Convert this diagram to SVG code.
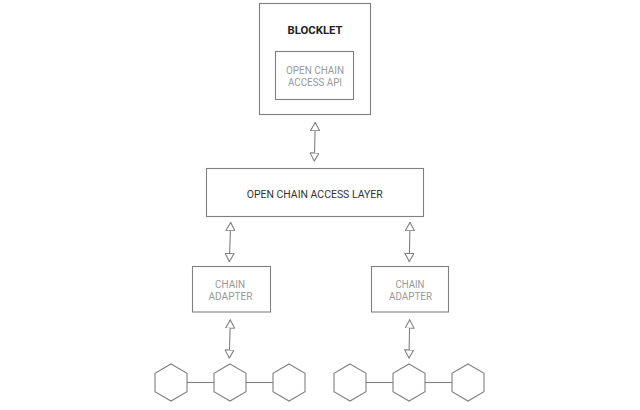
<svg xmlns="http://www.w3.org/2000/svg" width="640" height="410" viewBox="0 0 640 410">
<style>
.box{fill:#fff;stroke:#808080;stroke-width:1.1}
.t{font-family:Roboto,"Liberation Sans",sans-serif;font-size:10.5px;text-anchor:middle}
.dark{fill:#333}
.grey{fill:#999}
.bold{font-weight:bold;font-size:11px;fill:#222}
.conn{stroke:#808080;stroke-width:1.1;fill:none}
.hex{fill:#fff;stroke:#808080;stroke-width:1.1}
</style>
<defs>
<marker id="tri" viewBox="0 0 10 10" refX="10" refY="5" markerWidth="9" markerHeight="10" markerUnits="userSpaceOnUse" orient="auto-start-reverse" preserveAspectRatio="none">
<path d="M0.5,0.5 L9.5,5 L0.5,9.5 Z" fill="#fff" stroke="#808080" stroke-width="1.1"/>
</marker>
</defs>
<rect width="640" height="410" fill="#fff"/>
<g id="connectors">
<line class="conn" x1="315.3" y1="122" x2="314.3" y2="161.5" marker-start="url(#tri)" marker-end="url(#tri)"/>
<line class="conn" x1="230.7" y1="222" x2="229.3" y2="262" marker-start="url(#tri)" marker-end="url(#tri)"/>
<line class="conn" x1="410" y1="222" x2="409.3" y2="262" marker-start="url(#tri)" marker-end="url(#tri)"/>
<line class="conn" x1="230.3" y1="319.5" x2="229.3" y2="358.5" marker-start="url(#tri)" marker-end="url(#tri)"/>
<line class="conn" x1="409.7" y1="319.5" x2="409" y2="358.5" marker-start="url(#tri)" marker-end="url(#tri)"/>
<line class="conn" x1="187" y1="382.5" x2="214" y2="382.5"/>
<line class="conn" x1="246" y1="382.5" x2="273" y2="382.5"/>
<line class="conn" x1="366" y1="382.5" x2="393" y2="382.5"/>
<line class="conn" x1="425" y1="382.5" x2="452" y2="382.5"/>
</g>
<g id="blocklet">
<rect class="box" x="259.5" y="3.5" width="111" height="111"/>
<text class="t bold" x="315" y="33.5" textLength="55" lengthAdjust="spacingAndGlyphs">BLOCKLET</text>
</g>
<g id="api">
<rect class="box" x="275.5" y="51.5" width="78" height="48"/>
<text class="t grey" x="315" y="74" textLength="58" lengthAdjust="spacingAndGlyphs">OPEN CHAIN</text>
<text class="t grey" x="315" y="86" textLength="54" lengthAdjust="spacingAndGlyphs">ACCESS API</text>
</g>
<g id="layer">
<rect class="box" x="206.5" y="168.5" width="217" height="48"/>
<text class="t dark" x="314.7" y="197.7" textLength="136" lengthAdjust="spacingAndGlyphs">OPEN CHAIN ACCESS LAYER</text>
</g>
<g id="adapter-left">
<rect class="box" x="192.5" y="266.5" width="78" height="45.5"/>
<text class="t grey" x="230" y="288.3" textLength="30" lengthAdjust="spacingAndGlyphs">CHAIN</text>
<text class="t grey" x="230.5" y="300" textLength="44" lengthAdjust="spacingAndGlyphs">ADAPTER</text>
</g>
<g id="adapter-right">
<rect class="box" x="371.5" y="266.5" width="77" height="45.5"/>
<text class="t grey" x="410" y="288.3" textLength="29" lengthAdjust="spacingAndGlyphs">CHAIN</text>
<text class="t grey" x="410.5" y="300" textLength="43" lengthAdjust="spacingAndGlyphs">ADAPTER</text>
</g>
<g id="hex-l1"><polygon class="hex" points="171,364 187,373.25 187,391.75 171,401 155,391.75 155,373.25"/></g>
<g id="hex-l2"><polygon class="hex" points="230,364 246,373.25 246,391.75 230,401 214,391.75 214,373.25"/></g>
<g id="hex-l3"><polygon class="hex" points="289,364 305,373.25 305,391.75 289,401 273,391.75 273,373.25"/></g>
<g id="hex-r1"><polygon class="hex" points="350,364 366,373.25 366,391.75 350,401 334,391.75 334,373.25"/></g>
<g id="hex-r2"><polygon class="hex" points="409,364 425,373.25 425,391.75 409,401 393,391.75 393,373.25"/></g>
<g id="hex-r3"><polygon class="hex" points="468,364 484,373.25 484,391.75 468,401 452,391.75 452,373.25"/></g>
</svg>
